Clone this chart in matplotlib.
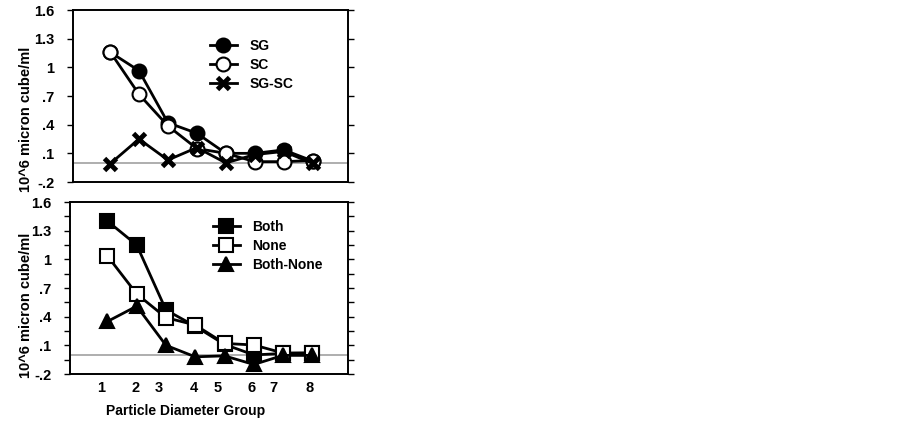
import matplotlib
matplotlib.use("Agg")
import matplotlib.pyplot as plt

plt.rcParams['font.family'] = ['Liberation Sans', 'DejaVu Sans']
plt.rcParams['font.weight'] = 'bold'

groups = [1, 2, 3, 4, 5, 6, 7, 8]
tick_labels = ["1", "2", "3", "4", "5", "6", "7", "8"]
tick_label_pos = [0.77, 1.97, 2.76, 3.95, 4.75, 5.93, 6.68, 7.91]

sg = [1.16, 0.965, 0.42, 0.31, 0.10, 0.10, 0.136, 0.02]
sc = [1.164, 0.718, 0.387, 0.15, 0.10, 0.013, 0.013, 0.025]
sg_sc = [-0.01, 0.25, 0.03, 0.16, 0.0, 0.087, 0.12, -0.005]

both = [1.40, 1.15, 0.47, 0.30, 0.11, 0.0, 0.015, 0.02]
none = [1.035, 0.638, 0.39, 0.313, 0.12, 0.104, 0.02, 0.02]
both_none = [0.35, 0.51, 0.10, -0.02, -0.01, -0.10, -0.005, -0.005]

yticks = [-0.2, 0.1, 0.4, 0.7, 1.0, 1.3, 1.6]
ytick_labels = ["-.2", ".1", ".4", ".7", "1", "1.3", "1.6"]
minor_yticks = [-0.05, 0.25, 0.55, 0.85, 1.15, 1.45]
ylabel = "10^6 micron cube/ml"
xlabel = "Particle Diameter Group"

fig = plt.figure(figsize=(9.02, 4.22), dpi=100)
ax1 = fig.add_axes([0.0809, 0.5687, 0.3049, 0.4076])
ax2 = fig.add_axes([0.0776, 0.1137, 0.3082, 0.4076])

lw = 2.0
ms = 10
mew = 1.5


def style(ax, minor, label_x, label_y):
    ax.set_xlim(-0.28, 9.22)
    ax.set_ylim(-0.2, 1.6)
    ax.axhline(0, color='#999999', lw=1.1, zorder=1)
    for s in ax.spines.values():
        s.set_linewidth(1.4)
    ax.set_yticks(yticks)
    ax.set_yticklabels(ytick_labels)
    ax.tick_params(axis='y', which='both', direction='out', length=4.5, width=1,
                   left=True, right=True, labelsize=10.5, pad=9)
    if minor:
        ax.set_yticks(minor_yticks, minor=True)
    ax.set_ylabel(ylabel, fontsize=10.5, fontweight='bold')
    ax.yaxis.set_label_coords(label_x, label_y)
    for t in ax.get_yticklabels():
        t.set_fontweight('bold')


style(ax1, False, -0.145, 0.363)
style(ax2, True, -0.133, 0.40)

ax1.plot(groups, sg, color='black', lw=lw, marker='o', ms=ms, mfc='black', mec='black', mew=mew, label='SG', zorder=3)
ax1.plot(groups, sc, color='black', lw=lw, marker='o', ms=ms, mfc='white', mec='black', mew=mew, label='SC', zorder=4)
ax1.plot(groups, sg_sc, color='black', lw=lw, marker='x', ms=9, mec='black', mew=3.5, label='SG-SC', zorder=5)
ax1.set_xticks([])

ax2.plot(groups, both, color='black', lw=lw, marker='s', ms=ms, mfc='black', mec='black', mew=mew, label='Both', zorder=3)
ax2.plot(groups, none, color='black', lw=lw, marker='s', ms=ms, mfc='white', mec='black', mew=mew, label='None', zorder=4)
ax2.plot(groups, both_none, color='black', lw=lw, marker='^', ms=10.5, mfc='black', mec='black', mew=mew, label='Both-None', zorder=5)
ax2.set_xticks(tick_label_pos)
ax2.set_xticklabels(tick_labels, fontsize=10.5, fontweight='bold')
ax2.tick_params(axis='x', length=0, pad=5)
ax2.set_xlabel(xlabel, fontsize=10, fontweight='bold')
ax2.xaxis.set_label_coords(0.414, -0.215)
ax2.xaxis.label.set_va('center')

leg_kw = dict(frameon=False, loc='upper left', fontsize=10, handlelength=1.95,
              handletextpad=0.9, labelspacing=0.35, borderpad=0, borderaxespad=0)
l1 = ax1.legend(bbox_to_anchor=(0.498, 0.83), **leg_kw)
l2 = ax2.legend(bbox_to_anchor=(0.514, 0.895), **leg_kw)
for l in (l1, l2):
    for t in l.get_texts():
        t.set_fontweight('bold')

fig.savefig("out.png", dpi=100)
